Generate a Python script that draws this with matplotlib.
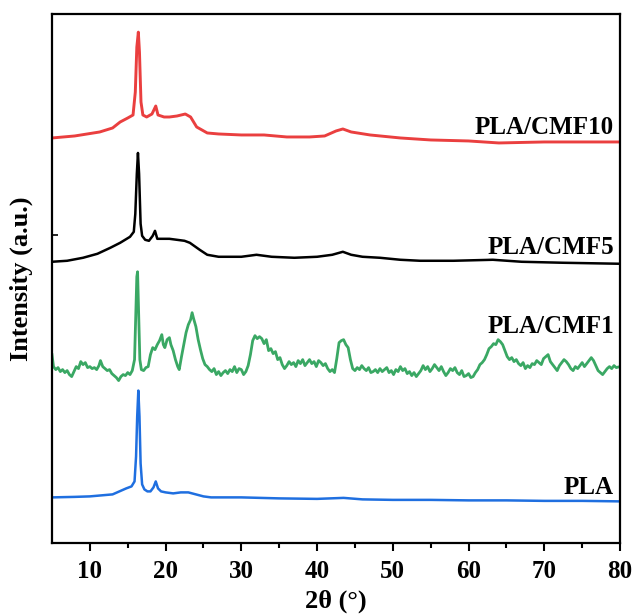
import matplotlib
matplotlib.use("Agg")
import matplotlib.pyplot as plt
import numpy as np

plt.rcParams["font.family"] = ["Liberation Serif", "DejaVu Serif"]
plt.rcParams["font.weight"] = "bold"

# PLA (blue)
pla_x = [5, 8, 10, 13, 14.8, 15.5, 15.9, 16.1, 16.25, 16.4, 16.55, 16.7, 16.9, 17.2,
         17.6, 18.0, 18.4, 18.7, 19.0, 19.4, 20, 21, 22, 23, 24, 25, 26, 28, 30, 35,
         40, 43.5, 46, 50, 55, 60, 65, 70, 75, 80]
pla_y = [4, 4.5, 5, 7, 13, 15, 20, 45, 85, 111, 85, 38, 17, 12,
         10, 10, 14, 20, 13, 10, 9, 8, 9, 9, 7, 5, 4, 4, 4, 3,
         2.5, 3.5, 2, 1.5, 1.5, 1, 1, 0.5, 0.5, 0]

# PLA/CMF1 (green)
cmf1_x = [5.0, 5.2, 5.5, 5.8, 6.1, 6.4, 6.7, 7.0, 7.3, 7.6, 7.9, 8.2, 8.5, 8.8, 9.1,
          9.4, 9.7, 10.0, 10.3, 10.6, 10.9, 11.2, 11.4, 11.7, 12.0, 12.3, 12.6, 12.9,
          13.2, 13.5, 13.8, 14.1, 14.4, 14.7, 15.0, 15.3, 15.6, 15.9, 16.05, 16.2, 16.3,
          16.45, 16.6, 16.8, 17.1, 17.4, 17.7, 18.0, 18.3, 18.6, 18.9, 19.2, 19.5, 19.7,
          19.9, 20.2, 20.5, 20.7, 21.0, 21.3, 21.6, 21.8, 22.1, 22.4, 22.7, 23.0, 23.3,
          23.5, 23.7, 24.0, 24.3, 24.6, 24.9, 25.2, 25.5, 25.8, 26.1, 26.4, 26.7, 27.0,
          27.3, 27.6, 27.9, 28.2, 28.5, 28.8, 29.1, 29.4, 29.7, 30.0, 30.3, 30.6, 30.9,
          31.2, 31.5, 31.8, 32.1, 32.4, 32.7, 33.0, 33.3, 33.6, 33.9, 34.2, 34.5, 34.8,
          35.1, 35.4, 35.7, 36.0, 36.3, 36.6, 36.9, 37.2, 37.5, 37.8, 38.1, 38.4, 38.7,
          39.0, 39.3, 39.6, 39.9, 40.2, 40.5, 40.8, 41.1, 41.4, 41.7, 42.0, 42.3, 42.6,
          42.9, 43.2, 43.5, 43.8, 44.1, 44.4, 44.7, 45.0, 45.3, 45.6, 45.9, 46.2, 46.5,
          46.8, 47.1, 47.4, 47.7, 48.0, 48.3, 48.6, 48.9, 49.2, 49.5, 49.8, 50.1, 50.4,
          50.7, 51.0, 51.3, 51.6, 51.9, 52.2, 52.5, 52.8, 53.1, 53.4, 53.7, 54.0, 54.3,
          54.6, 54.9, 55.2, 55.5, 55.8, 56.1, 56.4, 56.7, 57.0, 57.3, 57.6, 57.9, 58.2,
          58.5, 58.8, 59.1, 59.4, 59.7, 60.0, 60.3, 60.6, 60.9, 61.2, 61.5, 61.8, 62.1,
          62.4, 62.7, 63.0, 63.3, 63.6, 63.9, 64.2, 64.5, 64.8, 65.1, 65.4, 65.7, 66.0,
          66.3, 66.6, 66.9, 67.2, 67.5, 67.8, 68.1, 68.4, 68.7, 69.0, 69.3, 69.6, 69.9,
          70.2, 70.5, 70.8, 71.1, 71.4, 71.7, 72.0, 72.3, 72.6, 72.9, 73.2, 73.5, 73.8,
          74.1, 74.4, 74.7, 75.0, 75.3, 75.6, 75.9, 76.2, 76.5, 76.8, 77.1, 77.4, 77.7,
          78.0, 78.3, 78.6, 78.9, 79.2, 79.5, 80.0]
cmf1_y = [20, 8, 5, 7, 3, 5, 2, 4, 0, -2, 3, 8, 6, 13, 10,
          12, 7, 8, 6, 7, 5, 9, 14, 8, 6, 4, 5, 1,
          -1, -3, -6, -2, 0, -1, 2, 0, 4, 15, 55, 98, 103,
          60, 15, 5, 4, 7, 8, 20, 27, 25, 30, 34, 40, 30,
          27, 35, 37, 30, 24, 15, 8, 5, 18, 30, 42, 50, 55,
          62, 56, 48, 35, 25, 16, 10, 8, 5, 3, 6, 0, 3,
          -1, 2, 4, 1, 5, 3, 8, 2, 6, 5, 0, 3, 9,
          20, 34, 39, 36, 38, 36, 31, 35, 24, 26, 21, 23, 15,
          17, 10, 6, 9, 13, 10, 12, 8, 14, 11, 15, 9, 12,
          15, 11, 13, 8, 14, 12, 9, 11, 6, 3, 5, 2, 16,
          32, 34, 35, 30, 27, 15, 6, 4, 7, 5, 9, 6, 4,
          7, 2, 3, 5, 2, 6, 3, 5, 7, 2, 4, 0, 5,
          3, 8, 4, 6, 1, 3, -1, 2, -2, 1, 4, 9, 5,
          8, 3, 6, 10, 7, 4, 8, 3, -1, 2, 6, 4, 7,
          2, 0, 4, -2, -1, 1, -3, -2, 2, 5, 10, 12, 15,
          20, 26, 28, 31, 30, 35, 33, 30, 24, 18, 15, 17, 13,
          15, 11, 9, 12, 6, 9, 7, 11, 10, 14, 12, 10, 16,
          18, 20, 13, 10, 7, 4, 9, 12, 15, 13, 10, 6, 4,
          8, 6, 9, 12, 8, 11, 14, 17, 14, 9, 4, 2, 0,
          3, 6, 8, 6, 9, 7, 8]

# PLA/CMF5 (black)
cmf5_x = [5, 7, 9.1, 11, 12.7, 14, 15.3, 15.8, 16.0, 16.2, 16.35, 16.5, 16.7, 16.9,
          17.3, 17.8, 18.3, 18.6, 18.9, 19.5, 20.5, 21.5, 22.5, 23.2, 24.5, 25.5, 27,
          30, 32, 34, 37, 40, 42, 43.4, 44.5, 46, 48.3, 51, 53.6, 58, 63.2, 67, 72.5, 80]
cmf5_y = [2, 3, 6, 10, 16, 21, 27, 32, 50, 90, 111, 90, 40, 28,
          24, 23, 28, 33, 25, 25, 25, 24, 23, 21, 14, 9, 7,
          7, 9, 7, 6, 7, 9, 12, 9, 7, 6, 4, 3, 3, 4, 2, 1, 0]

# PLA/CMF10 (red)
cmf10_x = [5, 8, 11.3, 13, 14, 15.0, 15.7, 16.0, 16.2, 16.4, 16.55, 16.75, 17.0, 17.5,
           18.2, 18.7, 19.0, 19.8, 20.5, 21.5, 22.6, 23.3, 24.1, 25.5, 27, 30, 33, 36,
           39, 41, 42.5, 43.4, 44.5, 47, 51, 55, 60, 64, 70, 75, 80]
cmf10_y = [4, 6, 10, 14, 20, 24, 27, 50, 95, 110, 90, 40, 27, 25,
           28, 36, 27, 25, 25, 26, 28, 25, 15, 9, 8, 7, 7, 5,
           5, 6, 11, 13, 10, 7, 4, 2, 1, -1, 0, 0, 0]

names = ["PLA", "PLA/CMF1", "PLA/CMF5", "PLA/CMF10"]
offsets = [42, 169, 280, 402]

xs = [pla_x, cmf1_x, cmf5_x, cmf10_x]
ys = [pla_y, cmf1_y, cmf5_y, cmf10_y]
colors = ["#1f6fe0", "#3aa864", "#000000", "#ea3f3f"]
widths = [1.8, 2.0, 1.8, 2.1]
label_dy = [14, 48, 16, 14]

fig = plt.figure(figsize=(6.34, 6.16), dpi=100)
ax = fig.add_axes([0.082, 0.118, 0.896, 0.859])

for x, y, off, c, lw, name, dy in zip(xs, ys, offsets, colors, widths, names, label_dy):
    ax.plot(x, np.asarray(y) + off, color=c, lw=lw)
    ax.text(79.2, off + dy, name, ha="right", va="center",
            fontsize=18, fontweight="bold")

ax.set_xlim(5, 80)
ax.set_ylim(0, 530)
ax.set_xticks(np.arange(10, 81, 10))
ax.set_xticks(np.arange(15, 80, 10), minor=True)
ax.set_yticks([309])
ax.set_yticklabels([])
ax.tick_params(axis="x", which="major", direction="out", length=6, width=1.5,
               labelsize=18, pad=6)
ax.tick_params(axis="x", which="minor", direction="out", length=3.5, width=1.5)
ax.tick_params(axis="y", direction="in", length=4, width=1.2)
for lab in ax.get_xticklabels():
    lab.set_fontweight("bold")
for sp in ax.spines.values():
    sp.set_linewidth(1.6)

ax.set_xlabel("2θ (°)", fontsize=19, fontweight="bold", labelpad=5)
ax.set_ylabel("Intensity (a.u.)", fontsize=19, fontweight="bold", labelpad=10)

fig.savefig("out.png", dpi=100)
